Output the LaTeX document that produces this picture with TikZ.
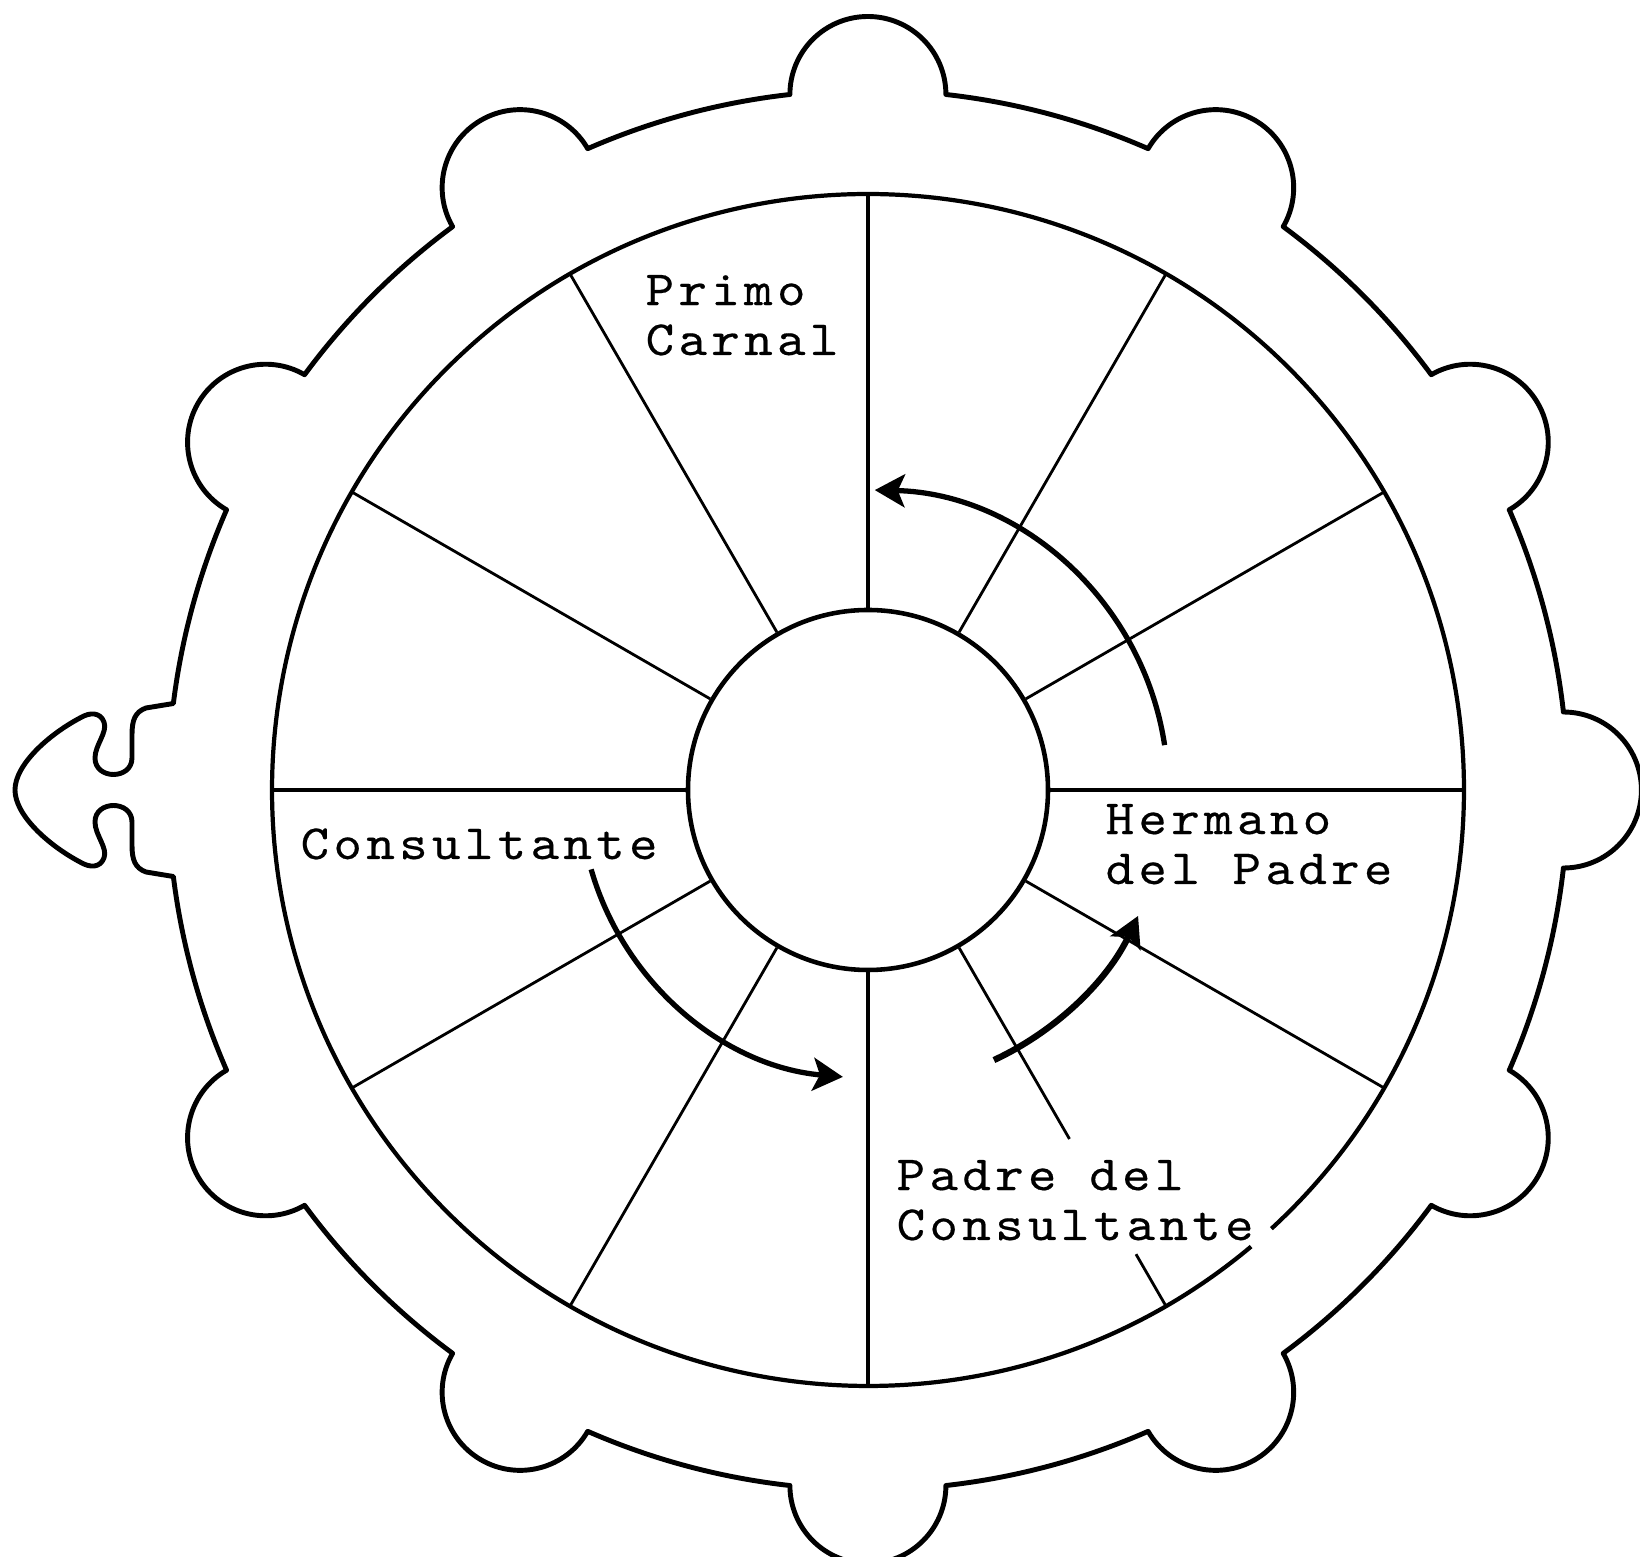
\documentclass[tikz,border=0pt]{standalone}
\usepackage{fontspec}
\usetikzlibrary{arrows.meta}
\newfontfamily\wheelfont[FakeStretch=1.1, LetterSpace=9, FakeBold=0.4]{lmmono10-regular.otf}

\begin{document}
\begin{tikzpicture}[
  ring/.style      = {line width=1.4pt, line join=round},
  rim/.style       = {line width=1.2pt},
  hub/.style       = {circle, draw, line width=1.3pt,
                      minimum size=3.6cm, inner sep=0pt},
  spoke/.style     = {line width=0.8pt},
  mainspoke/.style = {line width=1.15pt},
  turn/.style      = {line width=1.5pt,
                      -{Stealth[length=3mm, width=3.3mm, inset=0.7mm]}},
  lbl/.style       = {font=\wheelfont\fontsize{14}{14.2}\selectfont,
                      align=left, inner sep=0pt, anchor=base west}
]
\useasboundingbox (-8.68,-7.67) rectangle (7.72,7.90);

\def\Rr{7.0}
\def\Rb{0.78}
\def\Rm{5.96}

% outer ring with its bumps and the knob on the left
\draw[ring] (187.1:\Rr) arc[start angle=187.1, end angle=203.6, radius=\Rr]
  foreach \a in {210,240,...,480}{
    arc[start angle={\a-90}, end angle={\a+90}, radius=\Rb]
    arc[start angle={\a+6.4}, end angle={\a+23.6}, radius=\Rr]}
  arc[start angle=420, end angle=600, radius=\Rb]
  arc[start angle=516.4, end angle=532.9, radius=\Rr]
  -- (-7.22,0.82)
  .. controls (-7.33,0.78) and (-7.36,0.70) .. (-7.36,0.55)
  -- (-7.36,0.32)
  .. controls (-7.36,0.10) and (-7.73,0.10) .. (-7.73,0.32)
  .. controls (-7.73,0.45) and (-7.60,0.58) .. (-7.64,0.68)
  .. controls (-7.68,0.78) and (-7.78,0.78) .. (-7.88,0.72)
  .. controls (-8.20,0.55) and (-8.53,0.25) .. (-8.53,0)
  .. controls (-8.53,-0.25) and (-8.20,-0.55) .. (-7.88,-0.72)
  .. controls (-7.78,-0.78) and (-7.68,-0.78) .. (-7.64,-0.68)
  .. controls (-7.60,-0.58) and (-7.73,-0.45) .. (-7.73,-0.32)
  .. controls (-7.73,-0.10) and (-7.36,-0.10) .. (-7.36,-0.32)
  -- (-7.36,-0.55)
  .. controls (-7.36,-0.70) and (-7.33,-0.78) .. (-7.22,-0.82)
  -- cycle;

% wheel rim, open where the label touches it
\draw[rim] (-47.4:\Rm) arc[start angle=-47.4, end angle=310, radius=\Rm];

\node[hub] (hub) at (0,0) {};

\foreach \a in {0,90,180,270}{
  \draw[mainspoke] (hub.\a) -- (\a:\Rm);
}
\foreach \a in {30,60,120,150,210,240,330}{
  \draw[spoke] (hub.\a) -- (\a:\Rm);
}
\draw[spoke] (hub.300) -- (300:4.03);
\draw[spoke] (300:5.36) -- (300:\Rm);

% turning arrows
\coordinate (startA) at (8.6:3.0);
\coordinate (startB) at (196:2.88);
\coordinate (startC) at (-65:2.98);
\draw[turn] (startA) arc[start angle=8.6, end angle=88.7, radius=3.0];
\draw[turn] (startB) arc[start angle=196, end angle=265, radius=2.88];
\draw[turn, line width=1.8pt] (startC) arc[start angle=-65, end angle=-25, radius=2.98];

% labels (anchored at the baseline of their last line)
\node[lbl] (primo) at (-2.23,4.35) {Primo\\Carnal};
\node[lbl] (consultante) at (-5.68,-0.69) {Consultante};
\node[lbl] (hermano) at (2.37,-0.94) {Hermano\\del Padre};
\node[lbl] (padre) at (0.28,-4.50) {Padre del\\Consultante};
\end{tikzpicture}
\end{document}
